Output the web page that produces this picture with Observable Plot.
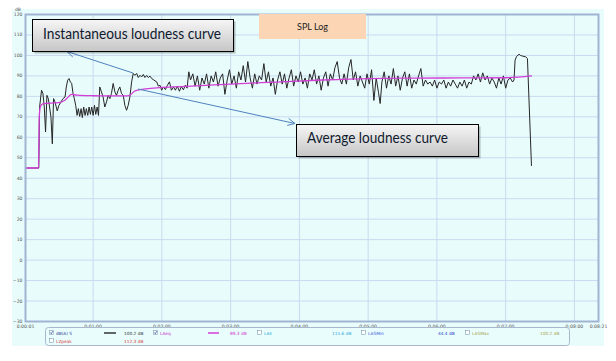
<!DOCTYPE html>
<html>
<head>
<meta charset="utf-8">
<script src="https://cdn.jsdelivr.net/npm/d3@7"></script>
<script src="https://cdn.jsdelivr.net/npm/@observablehq/plot@0.6"></script>
<style>
  html, body { margin: 0; padding: 0; background: #ffffff; }
  #wrap { position: relative; width: 616px; height: 361px; overflow: hidden; }
  #panel { position: absolute; left: 12px; top: 9px; width: 592px; height: 337px; background: #e9fcfc; }
  #plot { position: absolute; left: 0; top: 0; }
  #overlay { position: absolute; left: 0; top: 0; pointer-events: none; }
</style>
</head>
<body>
<div id="wrap">
  <div id="panel"></div>
  <div id="plot"></div>
  <svg id="overlay" width="616" height="361"></svg>
</div>
<script>
// ---- Data (time in seconds, level in dB) ----
const xTickSec = [1, 60, 120, 180, 240, 300, 360, 420, 480, 501];
const xTickLabels = ["0:00:01","0:01:00","0:02:00","0:03:00","0:04:00","0:05:00","0:06:00","0:07:00","0:08:00","0:08:21"];
const yTicks = [-30,-20,-10,0,10,20,30,40,50,60,70,80,90,100,110,120];

// Instantaneous loudness dB(A) S  [t, dB]
const instSeries = [
  [1,45],[12.6,45],[13.3,74.8],[15,83],[16.2,81.4],[17.4,74.8],[18.5,62.6],[19.7,80.5],[20.9,78.9],[22,74.8],
  [23.2,69.9],[24.4,56.8],[25.5,78.9],[26.7,77.3],[28.7,72.9],[30.2,75.6],[32,77.3],[33.7,78.9],[35.5,79.7],[36.6,84.6],
  [37.8,87.9],[39,88.7],[40.1,87.1],[41.3,86.3],[42.5,81.4],[43.6,78.9],[44.8,75.6],[46,70.7],[47.1,74],[48.3,70.2],
  [49.5,74],[50.6,69.6],[51.8,74.8],[53,70.7],[54.1,74],[55.3,70.7],[56.5,74.8],[57.6,71.2],[58.8,74.8],[60,70.7],
  [61.2,75.6],[62.3,71.2],[63.5,74.8],[64.7,70.7],[65.8,84.6],[67.3,82.2],[68.7,79.7],[70.2,74.8],[71.7,77.3],[73.1,80.5],
  [74.6,78.9],[76,81.4],[77.5,86.3],[79,82.2],[80.4,80.5],[81.9,83],[83.3,84.6],[84.8,81.4],[86.3,80.5],[87.7,75.6],
  [89.2,73.2],[90.6,75.6],[92.1,79.7],[93.6,87.1],[95,91.2],[96.5,90.3],[98,91.2],[99.4,89.2],[100.9,90.3],[102.3,89.5],
  [103.8,90.7],[105.2,89.2],[106.7,90.2],[108.2,89.2],[109.6,89.9],[111.1,88.7],[112.5,88.2],[114,87.6],[115.5,87.1],[116.9,85],
  [118.4,85.4],[119.8,83],[121.3,84.6],[123.1,83.3],[124.8,85.4],[126.6,87.1],[128.3,83],[130.1,84.6],[131.8,83],[133.5,85],
  [135.3,82.5],[137,84.8],[138.8,83.2],[140.5,85.5],[142,84],
  [143.5,92],[145,88],[147,91],[149,85],[151,90],[153,83],[155,89],[157,86],[159,91],[161,84],
  [163,90],[165,87],[167,92],[169,85],[171,89],[173,91],[175,81],[177,88],[179,93],[181,86],
  [183,90],[185,84],[187,92],[189,88],[191,95],[193,87],[195,97],[197,89],[199,84],[201,91],
  [203,86],[205,90],[207,88],[209,96],[211,87],[213,92],[215,85],[217,89],[219,81],[221,88],
  [223,92],[225,86],[227,91],[229,84],[231,89],[233,93],[235,85],[237,90],[239,87],[241,92],
  [243,86],[245,89],[247,84],[249,91],[251,88],[253,93],[255,86],[257,90],[259,83],[261,89],
  [263,92],[265,85],[267,91],[269,88],[271,94],[273,97],[275,89],[277,86],
  [279,91],[281,86],[283,94],[285,98],[287,88],[289,92],[291,85],[293,90],[295,87],[297,84],
  [299,91],[301,86],[303,93],[305,78],[307,89],[309,82],[310.5,76.5],[312,87],[314,92],[316,84],
  [318,90],[320,86],[322,93.6],[324,85],[326,90],[328,83],[330,89],[332,92],[334,85],[336,91],
  [338,84],[340,88],[342,86],[344,90],[346,93.6],[348,85],[350,88],[352,86],[354,87],[356,85],
  [358,88],[360,84],[362,87],[364,86],[366,88],[368,84],[370,87],[372,85],[374,88],[376,86],
  [378,84],[380,87],[382,85],[384,88],[386,84],[388,87],[390,86],[392,90],[394,88],[396,91],
  [398,87],[400,91.5],[402,88],[404,90],[406,86],[408,89],[410,87],[412,84],[414,89],[416,86],
  [418,90],[420,84],[422,88],[424,89],[426,87],[427.3,88],[428.2,97.7],[429.5,99.5],[431.7,100.6],[433,100],
  [434.6,99.7],[437.5,99.3],[439,98.5],[442.5,46.2]
];

// Average loudness LAeq  [t, dB]
const avgSeries = [
  [1,45],[12.4,45],[13,70],[14,75],[16,76.3],[20,76.6],[26,76.8],[32,77.2],[35,78],[38,79.5],
  [41,81],[46,80.6],[60,80.3],[75,80.2],[90,80.2],[93,81],[96,82.5],[100,83.2],[108,83.8],[118,84.3],
  [130,84.6],[150,85.1],[180,86],[220,87],[260,88],[300,88.7],[340,88.9],[380,89],[420,89.1],[442.5,90]
];

// Legend rows
const legendNames  = ["dB(A) S", "LAeq", "LAE", "LASMin", "LASMax", "LZpeak"];
const legendValues = ["100.2 dB", "89.3 dB", "115.6 dB", "44.4 dB", "100.2 dB", "112.3 dB"];
const legendChecked = [true, true, false, false, false, false];

const annotationTitle = "SPL Log";
const annotationInst = "Instantaneous loudness curve";
const annotationAvg = "Average loudness curve";
const unitLabel = "dB";

// ---- Plot ----
const labelMap = new Map(xTickSec.map((d, i) => [d, xTickLabels[i]]));
const gridColor = "#c8daf0";

const chart = Plot.plot({
  width: 616,
  height: 361,
  marginLeft: 25,
  marginRight: 18,
  marginTop: 14,
  marginBottom: 40,
  style: { background: "transparent", fontFamily: "'DejaVu Sans', sans-serif", fontSize: "4.6px", color: "#555", overflow: "visible" },
  x: { domain: [1, 501] },
  y: { domain: [-30, 120] },
  marks: [
    Plot.gridY(yTicks, { stroke: gridColor, strokeOpacity: 1, strokeWidth: 1 }),
    Plot.gridX(xTickSec.slice(1, -1), { stroke: gridColor, strokeOpacity: 1, strokeWidth: 1 }),
    Plot.axisY(yTicks, { tickSize: 0, tickPadding: 3, label: null, fontSize: 4.6 }),
    Plot.axisX(xTickSec, { tickSize: 0, tickPadding: 3, label: null, fontSize: 4.6, tickFormat: d => labelMap.get(d) }),
    Plot.line(instSeries, { x: d => d[0], y: d => d[1], stroke: "#262626", strokeWidth: 1, curve: "linear" }),
    Plot.line(avgSeries, { x: d => d[0], y: d => d[1], stroke: "#d23ed6", strokeWidth: 1.3, curve: "monotone-x" }),
    Plot.frame({ stroke: "#9fb4d3", strokeWidth: 2 })
  ]
});
document.getElementById("plot").appendChild(chart);

// ---- Overlay: annotations and legend ----
const svg = d3.select("#overlay");
const defs = svg.append("defs");
const grad = defs.append("linearGradient").attr("id", "boxGrad").attr("x1", 0).attr("y1", 0).attr("x2", 0).attr("y2", 1);
grad.append("stop").attr("offset", "0%").attr("stop-color", "#f6f6f6");
grad.append("stop").attr("offset", "100%").attr("stop-color", "#c6c6c6");

svg.append("text").attr("x", 15).attr("y", 11).attr("font-size", 4.5)
  .attr("font-family", "DejaVu Sans").attr("fill", "#555").text(unitLabel);

// SPL Log box
svg.append("rect").attr("x", 259).attr("y", 14).attr("width", 107).attr("height", 25).attr("fill", "#fcd5b4");
svg.append("text").attr("x", 312.5).attr("y", 29.5).attr("text-anchor", "middle")
  .attr("font-family", "Lato, 'Open Sans', sans-serif").attr("font-size", 9.5).attr("fill", "#1b1b1b")
  .attr("textLength", 31).attr("lengthAdjust", "spacingAndGlyphs").text(annotationTitle);

function arrow(x1, y1, x2, y2) {
  const g = svg.append("g").attr("stroke", "#4f81bd").attr("stroke-width", 1).attr("fill", "none");
  g.append("line").attr("x1", x1).attr("y1", y1).attr("x2", x2).attr("y2", y2);
  const ang = Math.atan2(y1 - y2, x1 - x2);
  const L = 8, spread = 0.45;
  g.append("polyline").attr("points", [
    [x2 + L * Math.cos(ang + spread), y2 + L * Math.sin(ang + spread)],
    [x2, y2],
    [x2 + L * Math.cos(ang - spread), y2 + L * Math.sin(ang - spread)]
  ].map(p => p.join(",")).join(" "));
}

function calloutBox(x, y, w, h, text, tx, ty, tlen) {
  svg.append("rect").attr("x", x + 2.5).attr("y", y + 2.5).attr("width", w).attr("height", h)
    .attr("fill", "#000").attr("opacity", 0.25);
  svg.append("rect").attr("x", x + 0.5).attr("y", y + 0.5).attr("width", w).attr("height", h)
    .attr("fill", "url(#boxGrad)").attr("stroke", "#000").attr("stroke-width", 1);
  svg.append("text").attr("x", tx).attr("y", ty)
    .attr("font-family", "Lato, 'Open Sans', sans-serif").attr("font-size", 14.5).attr("fill", "#0f1a2e")
    .attr("textLength", tlen).attr("lengthAdjust", "spacingAndGlyphs").text(text);
}

arrow(133, 73, 67, 51.5);
arrow(138, 89, 295, 123.5);
calloutBox(32, 19, 201, 32, annotationInst, 43, 38.5, 178);
calloutBox(296, 124, 182, 32, annotationAvg, 307, 143, 141);

// Legend
svg.append("rect").attr("x", 45.5).attr("y", 327.5).attr("width", 524).attr("height", 18).attr("rx", 3)
  .attr("fill", "#eafdfd").attr("stroke", "#a8b8cc").attr("stroke-width", 1);

const legendLayout = [
  { cb: 49.5, nx: 56, vx: 124, row: 0, color: "#27408f", vcolor: "#333", sample: [104, 116], scolor: "#333" },
  { cb: 153.5, nx: 160, vx: 230, row: 0, color: "#cc33cc", vcolor: "#cc33cc", sample: [208, 219], scolor: "#d23ed6" },
  { cb: 257.5, nx: 264, vx: 332, row: 0, color: "#2aa6d8", vcolor: "#2aa6d8" },
  { cb: 361.5, nx: 368, vx: 438, row: 0, color: "#3558d8", vcolor: "#2040c8" },
  { cb: 465.5, nx: 472, vx: 540, row: 0, color: "#a3a34a", vcolor: "#a3a34a" },
  { cb: 49.5, nx: 56, vx: 124, row: 1, color: "#d83a3a", vcolor: "#d83a3a" }
];
legendLayout.forEach((L, i) => {
  const cy = L.row === 0 ? 333 : 341;
  svg.append("rect").attr("x", L.cb).attr("y", cy - 2.5).attr("width", 4).attr("height", 4)
    .attr("fill", "#fff").attr("stroke", "#7f9db9").attr("stroke-width", 0.6);
  if (legendChecked[i]) {
    svg.append("polyline").attr("points", `${L.cb + 0.8},${cy - 0.5} ${L.cb + 1.8},${cy + 0.8} ${L.cb + 3.3},${cy - 1.8}`)
      .attr("fill", "none").attr("stroke", "#1f3f9f").attr("stroke-width", 0.7);
  }
  svg.append("text").attr("x", L.nx).attr("y", cy + 1.6).attr("font-size", 4.3)
    .attr("font-family", "DejaVu Sans").attr("fill", L.color).text(legendNames[i]);
  if (L.sample) {
    svg.append("line").attr("x1", L.sample[0]).attr("x2", L.sample[1]).attr("y1", cy).attr("y2", cy)
      .attr("stroke", L.scolor).attr("stroke-width", 1.5);
  }
  svg.append("text").attr("x", L.vx).attr("y", cy + 1.6).attr("font-size", 4.3)
    .attr("font-family", "DejaVu Sans").attr("fill", L.vcolor).text(legendValues[i]);
});
</script>
</body>
</html>
